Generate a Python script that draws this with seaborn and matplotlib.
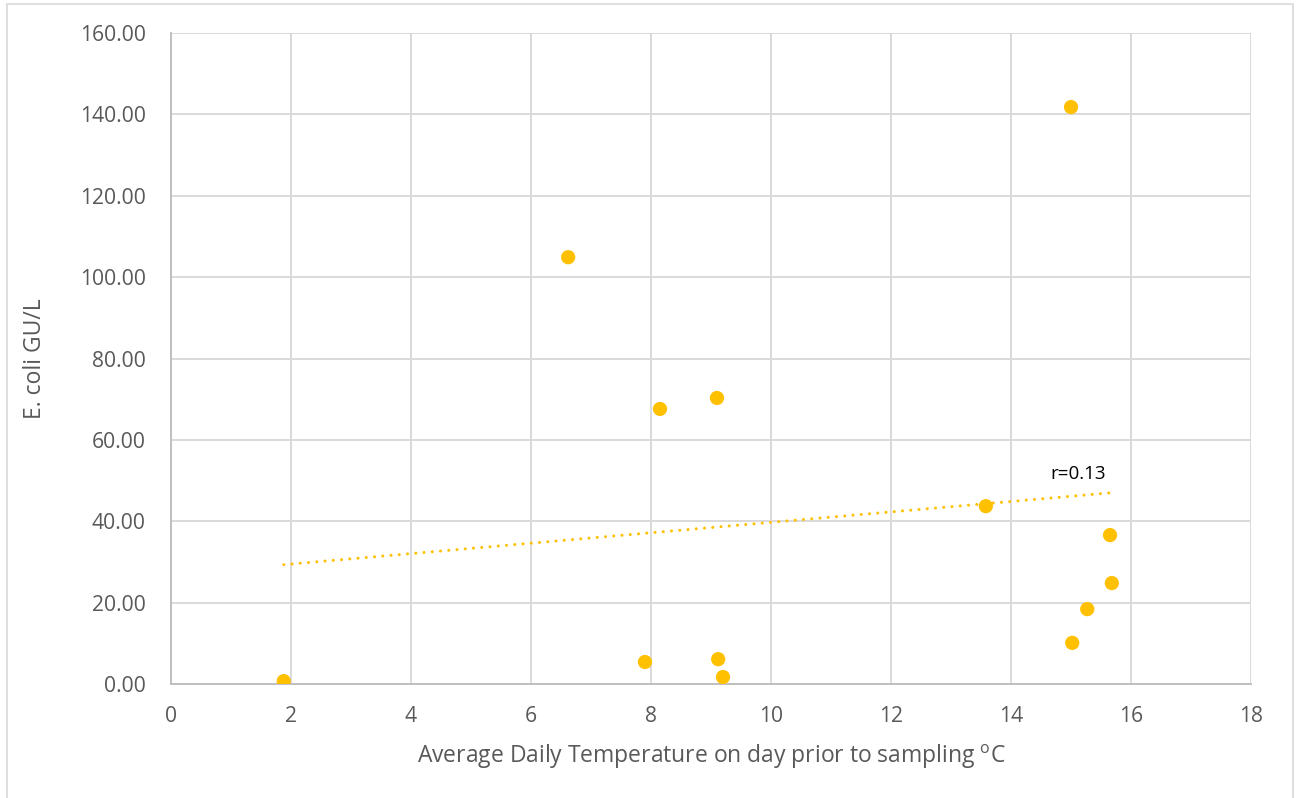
import numpy as np
import pandas as pd
import matplotlib
matplotlib.use("Agg")
import matplotlib.pyplot as plt
from matplotlib.patches import Rectangle
import seaborn as sns

# Average daily temperature (°C) on the day before sampling, and E. coli counts (GU/L)
temperature = [1.88, 6.62, 8.15, 9.10, 7.90, 9.12, 9.20, 13.58, 15.00, 15.02, 15.27, 15.65, 15.68]
ecoli = [0.7, 104.9, 67.6, 70.3, 5.4, 6.1, 1.7, 43.7, 141.8, 10.1, 18.4, 36.6, 24.8]

x_ticks = [0, 2, 4, 6, 8, 10, 12, 14, 16, 18]
y_ticks = [0, 20, 40, 60, 80, 100, 120, 140, 160]

POINT = "#FFC000"
GRID = "#D9D9D9"
TEXT = "#595959"

sns.set_theme(style="whitegrid")
plt.rcParams["font.family"] = ["Open Sans", "DejaVu Sans"]
plt.rcParams["mathtext.fontset"] = "custom"
plt.rcParams["mathtext.rm"] = "Open Sans"

df = pd.DataFrame({"temp": temperature, "ecoli": ecoli})

fig = plt.figure(figsize=(13.01, 7.98), dpi=100)
ax = fig.add_axes([0.1314, 0.1429, 0.8302, 0.8157])

# Linear trend line over the observed temperature range
slope, intercept = np.polyfit(df["temp"], df["ecoli"], 1)
r = np.corrcoef(df["temp"], df["ecoli"])[0, 1]
trend = pd.DataFrame({"temp": [df["temp"].min(), df["temp"].max()]})
trend["ecoli"] = slope * trend["temp"] + intercept
sns.lineplot(data=trend, x="temp", y="ecoli", ax=ax, color=POINT, lw=2.2,
             linestyle=(0, (0.01, 2.7)), dash_capstyle="round", zorder=2)

sns.scatterplot(data=df, x="temp", y="ecoli", ax=ax, color=POINT, s=105,
                edgecolor="none", linewidth=0, zorder=3)

ax.text(trend["temp"].iloc[-1] - 0.1, trend["ecoli"].iloc[-1] + 2.4, f"r={r:.2f}",
        ha="right", va="bottom", fontsize=13.5, color="black")

ax.set_xlim(0, 18)
ax.set_ylim(0, 160)
ax.set_xticks(x_ticks)
ax.set_yticks(y_ticks)
ax.set_xticklabels([str(t) for t in x_ticks])
ax.set_yticklabels([f"{t:.2f}" for t in y_ticks])
ax.tick_params(axis="both", length=0, labelsize=15.2, labelcolor=TEXT)
ax.tick_params(axis="x", pad=16)
ax.tick_params(axis="y", pad=18)

ax.grid(True, color=GRID, linewidth=1.4)
for side in ["top", "right"]:
    ax.spines[side].set_visible(False)
for side in ["left", "bottom"]:
    ax.spines[side].set_color("#BFBFBF")
    ax.spines[side].set_linewidth(1.4)

ax.set_xlabel("Average Daily Temperature on day prior to sampling $^{\\mathrm{o}}$C",
              fontsize=16.5, color=TEXT, labelpad=11)
ax.set_ylabel("E. coli GU/L", fontsize=16.5, color=TEXT, labelpad=24)

# Chart area frame
fig.patches.append(Rectangle((7 / 1301, -0.01), 1286 / 1301, 1 - 4 / 798 + 0.01,
                             transform=fig.transFigure, fill=False,
                             edgecolor=GRID, linewidth=1.2))

fig.savefig("out.png", dpi=100, facecolor="white")
